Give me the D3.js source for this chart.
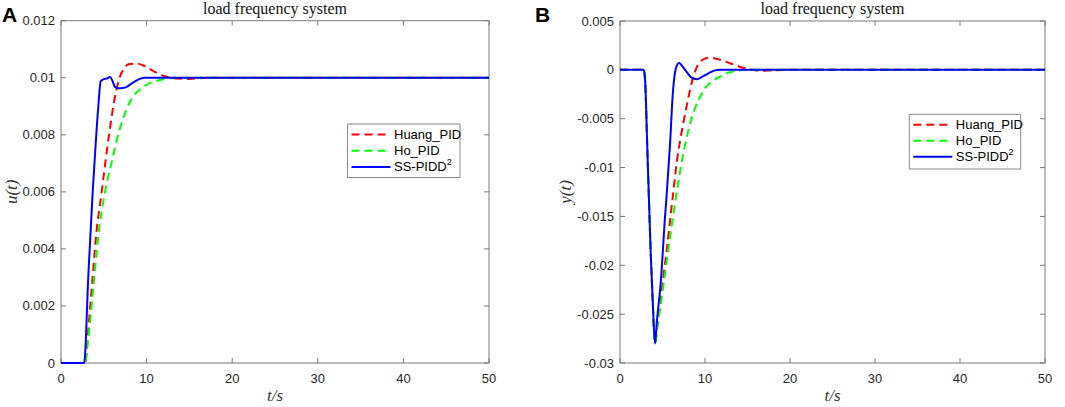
<!DOCTYPE html>
<html>
<head>
<meta charset="utf-8">
<script src="https://cdn.jsdelivr.net/npm/d3@7/dist/d3.min.js"></script>
<style>
    html, body { margin: 0; padding: 0; background: #fff; }
    svg { display: block; }
    .tick-label { font-family: 'Liberation Sans', Arial, sans-serif; font-size: 13px; fill: #262626; }
    .title { font-family: 'Liberation Serif', 'Times New Roman', serif; font-size: 16px; fill: #111; }
    .axis-label { font-family: 'Liberation Serif', 'Times New Roman', serif; font-style: italic; font-size: 17px; fill: #333; }
    .panel-label { font-family: 'Liberation Sans', Arial, sans-serif; font-weight: bold; font-size: 21px; fill: #000; }
    .legend-text { font-family: 'Liberation Sans', Arial, sans-serif; font-size: 13px; fill: #000; }
</style>
</head>
<body>
<svg id="chart" width="1065" height="407"></svg>
<script>
// ---- data ----
const seriesNames = ['Huang_PID', 'Ho_PID', 'SS-PIDD'];
const seriesColors = ['#ff0000', '#00ff00', '#0000ff'];

const xTicks = [0, 10, 20, 30, 40, 50];
const xTickLabels = ['0', '10', '20', '30', '40', '50'];

const yTicksA = [0, 0.002, 0.004, 0.006, 0.008, 0.01, 0.012];
const yTickLabelsA = ['0', '0.002', '0.004', '0.006', '0.008', '0.01', '0.012'];

const yTicksB = [-0.03, -0.025, -0.02, -0.015, -0.01, -0.005, 0, 0.005];
const yTickLabelsB = ['-0.03', '-0.025', '-0.02', '-0.015', '-0.01', '-0.005', '0', '0.005'];

// panel A : u(t), [t, value]
const huangA = [[0, 0], [2.85, 0], [3.0, 0.0004], [3.19, 0.00116], [3.62, 0.00273], [4.09, 0.00443], [4.75, 0.006],
    [5.14, 0.00694], [5.72, 0.00823], [6.31, 0.00935], [6.9, 0.01005], [7.4, 0.01033], [7.87, 0.01047], [8.8, 0.0105],
    [9.7, 0.01042], [10.6, 0.01027], [11.5, 0.01012], [12.4, 0.01003], [13.5, 0.00997], [15, 0.00996], [17, 0.01], [50, 0.01]];
const hoA = [[0, 0], [2.85, 0], [3.0, 0.0004], [3.3, 0.00116], [3.8, 0.00273], [4.35, 0.00443], [5.14, 0.006],
    [5.92, 0.00705], [6.89, 0.00823], [8.06, 0.00916], [9.62, 0.00968], [11.57, 0.00992], [13.5, 0.01], [50, 0.01]];
const ssA = [[0, 0], [2.7, 0], [3.2, 0.0031], [3.7, 0.006], [3.97, 0.0073], [4.36, 0.009], [4.64, 0.00988], [5.0, 0.00995],
    [5.3, 0.00997], [5.72, 0.01003], [6.0, 0.0099], [6.3, 0.00968], [6.7, 0.00963], [7.2, 0.00964], [7.67, 0.00968],
    [8.1, 0.00977], [8.64, 0.00987], [9.2, 0.00996], [9.8, 0.01], [50, 0.01]];

// panel B : y(t), [t, value]
const huangB = [[0, 0], [2.8, 0], [2.95, -0.001], [3.22, -0.0082], [3.6, -0.0184], [3.84, -0.0235], [4.12, -0.028],
    [4.4, -0.0262], [4.8, -0.0235], [5.1, -0.0212], [5.49, -0.0185], [5.88, -0.0155], [6.27, -0.0125], [6.7, -0.0093],
    [7.06, -0.0073], [7.5, -0.0052], [7.84, -0.0037], [8.2, -0.0022], [8.63, -0.0007], [9.0, 0.0002], [9.41, 0.0008],
    [10.0, 0.00115], [10.59, 0.00125], [11.5, 0.0011], [12.55, 0.00082], [13.5, 0.0005], [14.5, 0.00022], [15.5, 0],
    [16.5, -0.0001], [18, -0.00005], [20, 0], [50, 0]];
const hoB = [[0, 0], [2.8, 0], [2.95, -0.001], [3.22, -0.0082], [3.6, -0.0184], [3.84, -0.0235], [4.12, -0.028],
    [4.4, -0.0263], [4.8, -0.0239], [5.15, -0.0218], [5.61, -0.0188], [6.12, -0.0157], [6.67, -0.0125], [7.2, -0.0097],
    [7.65, -0.0077], [8.1, -0.006], [8.63, -0.0044], [9.3, -0.003], [10.0, -0.0019], [10.8, -0.0012], [11.76, -0.0007],
    [12.7, -0.0003], [13.7, -0.0001], [15, 0], [50, 0]];
const ssB = [[0, 0], [2.8, 0], [2.95, -0.001], [3.22, -0.0082], [3.6, -0.0184], [3.84, -0.0235], [4.12, -0.028],
    [4.32, -0.0259], [4.79, -0.0218], [5.3, -0.015], [5.49, -0.0128], [5.88, -0.0077], [6.2, -0.0026], [6.59, 0.0002],
    [6.95, 0.0007], [7.3, 0.0004], [7.84, -0.0002], [8.4, -0.0008], [9.02, -0.00096], [9.7, -0.0007], [10.4, -0.00035],
    [11.0, -0.0001], [11.76, 0], [50, 0]];

const svg = d3.select('#chart');

function drawPanel(opt) {
    const g = svg.append('g');
    const x = d3.scaleLinear().domain([0, 50]).range([opt.left, opt.right]);
    const y = d3.scaleLinear().domain(opt.yDomain).range([opt.bottom, opt.top]);
    const tickLen = 5;

    // box
    g.append('rect')
        .attr('x', opt.left).attr('y', opt.top)
        .attr('width', opt.right - opt.left).attr('height', opt.bottom - opt.top)
        .attr('fill', '#fff').attr('stroke', '#7a7a7a').attr('stroke-width', 1);

    // ticks on all four sides, pointing inward
    xTicks.forEach((t, i) => {
        const px = x(t);
        g.append('line').attr('x1', px).attr('x2', px).attr('y1', opt.bottom).attr('y2', opt.bottom - tickLen)
            .attr('stroke', '#7a7a7a');
        g.append('line').attr('x1', px).attr('x2', px).attr('y1', opt.top).attr('y2', opt.top + tickLen)
            .attr('stroke', '#7a7a7a');
        g.append('text').attr('class', 'tick-label')
            .attr('x', px).attr('y', opt.bottom + 20)
            .attr('text-anchor', 'middle').text(xTickLabels[i]);
    });
    opt.yTicks.forEach((v, i) => {
        const py = y(v);
        g.append('line').attr('x1', opt.left).attr('x2', opt.left + tickLen).attr('y1', py).attr('y2', py)
            .attr('stroke', '#7a7a7a');
        g.append('line').attr('x1', opt.right).attr('x2', opt.right - tickLen).attr('y1', py).attr('y2', py)
            .attr('stroke', '#7a7a7a');
        g.append('text').attr('class', 'tick-label')
            .attr('x', opt.left - 6).attr('y', py + 4.5)
            .attr('text-anchor', 'end').text(opt.yTickLabels[i]);
    });

    // curves
    const line = d3.line()
        .x((d) => x(d[0]))
        .y((d) => y(d[1]))
        .curve(d3.curveMonotoneX);

    opt.series.forEach((s, i) => {
        g.append('path')
            .datum(s)
            .attr('d', line)
            .attr('fill', 'none')
            .attr('stroke', seriesColors[i])
            .attr('stroke-width', 2)
            .attr('stroke-dasharray', i < 2 ? '8,5' : null);
    });

    // title, labels
    const cx = (opt.left + opt.right) / 2;
    g.append('text').attr('class', 'title').attr('x', cx).attr('y', 14)
        .attr('text-anchor', 'middle').text('load frequency system');
    g.append('text').attr('class', 'axis-label').attr('x', cx).attr('y', 401)
        .attr('text-anchor', 'middle').text('t/s');
    g.append('text').attr('class', 'axis-label')
        .attr('transform', `translate(${opt.yLabelX},${(opt.top + opt.bottom) / 2}) rotate(-90)`)
        .attr('text-anchor', 'middle').text(opt.yLabel);
    g.append('text').attr('class', 'panel-label').attr('x', opt.panelX).attr('y', 22).text(opt.panel);

    // legend
    const lg = opt.legend;
    g.append('rect')
        .attr('x', lg.x).attr('y', lg.y).attr('width', lg.w).attr('height', lg.h)
        .attr('fill', '#fff').attr('stroke', '#8a8a8a').attr('stroke-width', 1);
    seriesNames.forEach((name, i) => {
        const ry = lg.y + 10.5 + i * lg.step;
        g.append('line')
            .attr('x1', lg.x + 4).attr('x2', lg.x + 43)
            .attr('y1', ry).attr('y2', ry)
            .attr('stroke', seriesColors[i]).attr('stroke-width', 2)
            .attr('stroke-dasharray', i < 2 ? '8,5' : null);
        const txt = g.append('text').attr('class', 'legend-text')
            .attr('x', lg.x + 46.5).attr('y', ry + 4.5).text(name);
        if (i === 2) {
            txt.append('tspan').attr('dy', -6).attr('font-size', '9px').text('2');
        }
    });
}

drawPanel({
    panel: 'A', panelX: 2,
    left: 61, right: 489, top: 20.7, bottom: 363,
    yDomain: [0, 0.012], yTicks: yTicksA, yTickLabels: yTickLabelsA,
    yLabel: 'u(t)', yLabelX: 17,
    series: [huangA, hoA, ssA],
    legend: { x: 347.5, y: 124, w: 112.5, h: 53.5, step: 16.2 }
});

drawPanel({
    panel: 'B', panelX: 535,
    left: 620, right: 1045, top: 21, bottom: 363,
    yDomain: [-0.03, 0.005], yTicks: yTicksB, yTickLabels: yTickLabelsB,
    yLabel: 'y(t)', yLabelX: 571,
    series: [huangB, hoB, ssB],
    legend: { x: 909.3, y: 114.3, w: 111.4, h: 54.7, step: 16 }
});
</script>
</body>
</html>
